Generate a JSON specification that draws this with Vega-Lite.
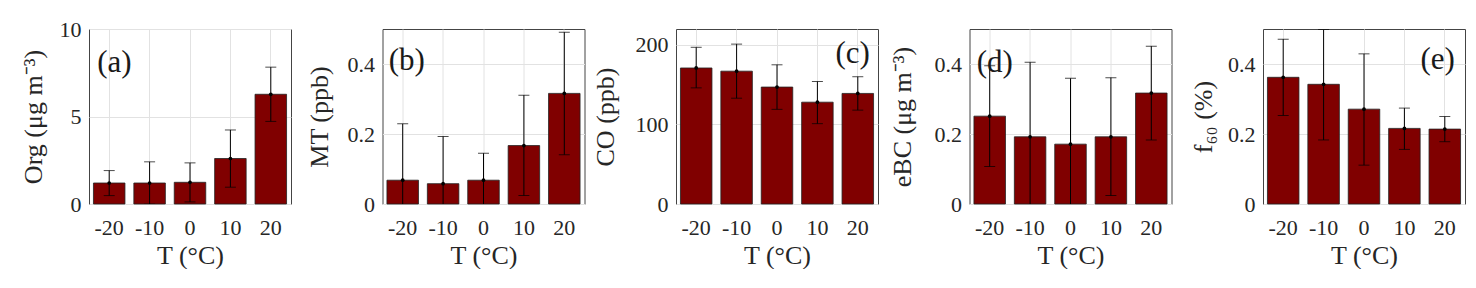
{
  "$schema": "https://vega.github.io/schema/vega-lite/v6.json",
  "padding": {"left": 19, "top": 17, "right": 0, "bottom": 0},
  "data": {"values": [
    {"panel": "a", "T": "-20", "mean": 1.20, "low": 0.48, "high": 1.91},
    {"panel": "a", "T": "-10", "mean": 1.20, "low": -0.01, "high": 2.41},
    {"panel": "a", "T": "0", "mean": 1.24, "low": 0.12, "high": 2.35},
    {"panel": "a", "T": "10", "mean": 2.60, "low": 0.96, "high": 4.23},
    {"panel": "a", "T": "20", "mean": 6.27, "low": 4.72, "high": 7.82},
    {"panel": "b", "T": "-20", "mean": 0.068, "low": -0.093, "high": 0.229},
    {"panel": "b", "T": "-10", "mean": 0.058, "low": -0.077, "high": 0.193},
    {"panel": "b", "T": "0", "mean": 0.068, "low": -0.009, "high": 0.145},
    {"panel": "b", "T": "10", "mean": 0.167, "low": 0.024, "high": 0.311},
    {"panel": "b", "T": "20", "mean": 0.316, "low": 0.141, "high": 0.491},
    {"panel": "c", "T": "-20", "mean": 171, "low": 146, "high": 197},
    {"panel": "c", "T": "-10", "mean": 167, "low": 133, "high": 201},
    {"panel": "c", "T": "0", "mean": 147, "low": 119, "high": 175},
    {"panel": "c", "T": "10", "mean": 128, "low": 101, "high": 154},
    {"panel": "c", "T": "20", "mean": 139, "low": 118, "high": 160},
    {"panel": "d", "T": "-20", "mean": 0.251, "low": 0.107, "high": 0.395},
    {"panel": "d", "T": "-10", "mean": 0.192, "low": -0.021, "high": 0.405},
    {"panel": "d", "T": "0", "mean": 0.171, "low": -0.017, "high": 0.359},
    {"panel": "d", "T": "10", "mean": 0.192, "low": 0.024, "high": 0.361},
    {"panel": "d", "T": "20", "mean": 0.317, "low": 0.183, "high": 0.451},
    {"panel": "e", "T": "-20", "mean": 0.362, "low": 0.253, "high": 0.471},
    {"panel": "e", "T": "-10", "mean": 0.342, "low": 0.183, "high": 0.499},
    {"panel": "e", "T": "0", "mean": 0.271, "low": 0.111, "high": 0.429},
    {"panel": "e", "T": "10", "mean": 0.216, "low": 0.156, "high": 0.274},
    {"panel": "e", "T": "20", "mean": 0.214, "low": 0.178, "high": 0.250}
  ]},
  "bounds": "flush",
  "spacing": 91.5,
  "config": {
    "font": "Liberation Serif",
    "view": {"stroke": "#444444", "strokeWidth": 1},
    "axis": {
      "labelFont": "Liberation Serif", "titleFont": "Liberation Serif",
      "labelFontSize": 22, "titleFontSize": 26, "titleFontWeight": "normal",
      "labelColor": "#262626", "titleColor": "#262626",
      "gridColor": "#e2e2e2", "gridWidth": 1, "domain": false, "ticks": false
    },
    "axisX": {"labelAngle": 0, "grid": true, "labelPadding": 30, "labelBaseline": "alphabetic", "titleY": 59, "titleBaseline": "alphabetic"},
    "axisY": {"grid": true, "labelPadding": 8, "titleBaseline": "alphabetic", "titleY": 87.5, "titleAngle": -90, "format": "~r"},
    "bar": {"color": "#800000", "stroke": "#222222", "strokeWidth": 0.8},
    "rule": {"color": "#000000", "strokeWidth": 1},
    "tick": {"color": "#000000", "thickness": 1},
    "point": {"color": "#000000", "filled": true, "opacity": 1}
  },
  "hconcat": [
    {
      "width": 202, "height": 175,
      "transform": [{"filter": "datum.panel == 'a'"}],
      "encoding": {"x": {"field": "T", "type": "ordinal", "sort": ["-20", "-10", "0", "10", "20"], "scale": {"paddingInner": 0.22, "paddingOuter": 0.11}, "title": "T (°C)"}},
      "layer": [
        {"mark": "bar", "encoding": {"y": {"field": "mean", "type": "quantitative", "title": "Org (μg m⁻³)", "scale": {"domain": [0, 10], "nice": false}, "axis": {"values": [0, 5, 10], "titleX": -48}}}},
        {"mark": {"type": "rule", "clip": true}, "encoding": {"y": {"field": "low", "type": "quantitative", "title": "Org (μg m⁻³)"}, "y2": {"field": "high"}}},
        {"mark": {"type": "tick", "size": 11, "clip": true}, "encoding": {"y": {"field": "low", "type": "quantitative", "title": "Org (μg m⁻³)"}}},
        {"mark": {"type": "tick", "size": 11, "clip": true}, "encoding": {"y": {"field": "high", "type": "quantitative", "title": "Org (μg m⁻³)"}}},
        {"mark": {"type": "point", "size": 14}, "encoding": {"y": {"field": "mean", "type": "quantitative", "title": "Org (μg m⁻³)"}}},
        {"transform": [{"filter": "datum.T == '-20'"}], "mark": {"type": "text", "text": "(a)", "align": "left", "dx": -12, "font": "Liberation Serif", "fontSize": 31, "fontWeight": "normal", "color": "#1a1a1a", "baseline": "middle"}, "encoding": {"x": {"datum": "-20"}, "y": {"datum": 8.06, "type": "quantitative", "title": "Org (μg m⁻³)"}}}
      ]
    },
    {
      "width": 202, "height": 175,
      "transform": [{"filter": "datum.panel == 'b'"}],
      "encoding": {"x": {"field": "T", "type": "ordinal", "sort": ["-20", "-10", "0", "10", "20"], "scale": {"paddingInner": 0.22, "paddingOuter": 0.11}, "title": "T (°C)"}},
      "layer": [
        {"mark": "bar", "encoding": {"y": {"field": "mean", "type": "quantitative", "title": "MT (ppb)", "scale": {"domain": [0, 0.5], "nice": false}, "axis": {"values": [0, 0.2, 0.4], "titleX": -55}}}},
        {"mark": {"type": "rule", "clip": true}, "encoding": {"y": {"field": "low", "type": "quantitative", "title": "MT (ppb)"}, "y2": {"field": "high"}}},
        {"mark": {"type": "tick", "size": 11, "clip": true}, "encoding": {"y": {"field": "low", "type": "quantitative", "title": "MT (ppb)"}}},
        {"mark": {"type": "tick", "size": 11, "clip": true}, "encoding": {"y": {"field": "high", "type": "quantitative", "title": "MT (ppb)"}}},
        {"mark": {"type": "point", "size": 14}, "encoding": {"y": {"field": "mean", "type": "quantitative", "title": "MT (ppb)"}}},
        {"transform": [{"filter": "datum.T == '-20'"}], "mark": {"type": "text", "text": "(b)", "align": "left", "dx": -14, "font": "Liberation Serif", "fontSize": 31, "fontWeight": "normal", "color": "#1a1a1a", "baseline": "middle"}, "encoding": {"x": {"datum": "-20"}, "y": {"datum": 0.409, "type": "quantitative", "title": "MT (ppb)"}}}
      ]
    },
    {
      "width": 202, "height": 175,
      "transform": [{"filter": "datum.panel == 'c'"}],
      "encoding": {"x": {"field": "T", "type": "ordinal", "sort": ["-20", "-10", "0", "10", "20"], "scale": {"paddingInner": 0.22, "paddingOuter": 0.11}, "title": "T (°C)"}},
      "layer": [
        {"mark": "bar", "encoding": {"y": {"field": "mean", "type": "quantitative", "title": "CO (ppb)", "scale": {"domain": [0, 220], "nice": false}, "axis": {"values": [0, 100, 200], "titleX": -63}}}},
        {"mark": {"type": "rule", "clip": true}, "encoding": {"y": {"field": "low", "type": "quantitative", "title": "CO (ppb)"}, "y2": {"field": "high"}}},
        {"mark": {"type": "tick", "size": 11, "clip": true}, "encoding": {"y": {"field": "low", "type": "quantitative", "title": "CO (ppb)"}}},
        {"mark": {"type": "tick", "size": 11, "clip": true}, "encoding": {"y": {"field": "high", "type": "quantitative", "title": "CO (ppb)"}}},
        {"mark": {"type": "point", "size": 14}, "encoding": {"y": {"field": "mean", "type": "quantitative", "title": "CO (ppb)"}}},
        {"transform": [{"filter": "datum.T == '20'"}], "mark": {"type": "text", "text": "(c)", "align": "right", "dx": 12, "font": "Liberation Serif", "fontSize": 31, "fontWeight": "normal", "color": "#1a1a1a", "baseline": "middle"}, "encoding": {"x": {"datum": "20"}, "y": {"datum": 188.6, "type": "quantitative", "title": "CO (ppb)"}}}
      ]
    },
    {
      "width": 202, "height": 175,
      "transform": [{"filter": "datum.panel == 'd'"}],
      "encoding": {"x": {"field": "T", "type": "ordinal", "sort": ["-20", "-10", "0", "10", "20"], "scale": {"paddingInner": 0.22, "paddingOuter": 0.11}, "title": "T (°C)"}},
      "layer": [
        {"mark": "bar", "encoding": {"y": {"field": "mean", "type": "quantitative", "title": "eBC (μg m⁻³)", "scale": {"domain": [0, 0.5], "nice": false}, "axis": {"values": [0, 0.2, 0.4], "titleX": -59}}}},
        {"mark": {"type": "rule", "clip": true}, "encoding": {"y": {"field": "low", "type": "quantitative", "title": "eBC (μg m⁻³)"}, "y2": {"field": "high"}}},
        {"mark": {"type": "tick", "size": 11, "clip": true}, "encoding": {"y": {"field": "low", "type": "quantitative", "title": "eBC (μg m⁻³)"}}},
        {"mark": {"type": "tick", "size": 11, "clip": true}, "encoding": {"y": {"field": "high", "type": "quantitative", "title": "eBC (μg m⁻³)"}}},
        {"mark": {"type": "point", "size": 14}, "encoding": {"y": {"field": "mean", "type": "quantitative", "title": "eBC (μg m⁻³)"}}},
        {"transform": [{"filter": "datum.T == '-20'"}], "mark": {"type": "text", "text": "(d)", "align": "left", "dx": -13, "font": "Liberation Serif", "fontSize": 31, "fontWeight": "normal", "color": "#1a1a1a", "baseline": "middle"}, "encoding": {"x": {"datum": "-20"}, "y": {"datum": 0.403, "type": "quantitative", "title": "eBC (μg m⁻³)"}}}
      ]
    },
    {
      "width": 202, "height": 175,
      "transform": [{"filter": "datum.panel == 'e'"}],
      "encoding": {"x": {"field": "T", "type": "ordinal", "sort": ["-20", "-10", "0", "10", "20"], "scale": {"paddingInner": 0.22, "paddingOuter": 0.11}, "title": "T (°C)"}},
      "layer": [
        {"mark": "bar", "encoding": {"y": {"field": "mean", "type": "quantitative", "title": "f₆₀ (%)", "scale": {"domain": [0, 0.5], "nice": false}, "axis": {"values": [0, 0.2, 0.4], "titleX": -52}}}},
        {"mark": {"type": "rule", "clip": true}, "encoding": {"y": {"field": "low", "type": "quantitative", "title": "f₆₀ (%)"}, "y2": {"field": "high"}}},
        {"mark": {"type": "tick", "size": 11, "clip": true}, "encoding": {"y": {"field": "low", "type": "quantitative", "title": "f₆₀ (%)"}}},
        {"mark": {"type": "tick", "size": 11, "clip": true}, "encoding": {"y": {"field": "high", "type": "quantitative", "title": "f₆₀ (%)"}}},
        {"mark": {"type": "point", "size": 14}, "encoding": {"y": {"field": "mean", "type": "quantitative", "title": "f₆₀ (%)"}}},
        {"transform": [{"filter": "datum.T == '20'"}], "mark": {"type": "text", "text": "(e)", "align": "right", "dx": 10, "font": "Liberation Serif", "fontSize": 31, "fontWeight": "normal", "color": "#1a1a1a", "baseline": "middle"}, "encoding": {"x": {"datum": "20"}, "y": {"datum": 0.411, "type": "quantitative", "title": "f₆₀ (%)"}}}
      ]
    }
  ]
}
